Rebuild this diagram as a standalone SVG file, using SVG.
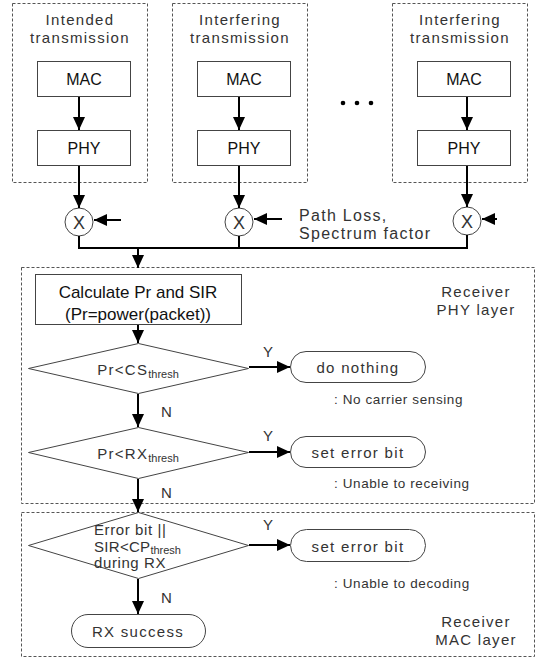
<svg xmlns="http://www.w3.org/2000/svg" width="542" height="658" viewBox="0 0 542 658">
<defs>
<marker id="ah" markerUnits="userSpaceOnUse" markerWidth="14" markerHeight="14" viewBox="0 0 14 14" refX="13" refY="7" orient="auto">
<path d="M0,1 L13,7 L0,13 Z" fill="#000"/>
</marker>
</defs>
<style>
.dash{fill:none;stroke:#555;stroke-width:1;stroke-dasharray:3,2}
.box{fill:#fff;stroke:#444;stroke-width:1}
.ln{fill:none;stroke:#000;stroke-width:2}
.arr{fill:none;stroke:#000;stroke-width:2;marker-end:url(#ah)}
.t{font-family:"Liberation Sans",Arial,sans-serif;font-size:15px;fill:#333;letter-spacing:1.3px}
.b{font-family:"Liberation Sans",Arial,sans-serif;font-size:16px;fill:#111}
.s{font-family:"Liberation Sans",Arial,sans-serif;font-size:13.5px;fill:#333;letter-spacing:0.6px}
.x{font-family:"Liberation Sans",Arial,sans-serif;font-size:18px;fill:#333;text-anchor:middle}
.sub{font-size:11px;letter-spacing:0}
.m{text-anchor:middle}
</style>
<rect width="542" height="658" fill="#fff"/>

<g id="tx1">
<rect class="dash" x="12.5" y="3.5" width="135" height="179"/>
<text class="t m" x="80" y="25">Intended</text>
<text class="t m" x="80" y="43">transmission</text>
</g>
<g id="tx2">
<rect class="dash" x="172.5" y="3.5" width="135" height="179"/>
<text class="t m" x="240" y="25">Interfering</text>
<text class="t m" x="240" y="43">transmission</text>
</g>
<g id="tx3">
<rect class="dash" x="392.5" y="3.5" width="135" height="179"/>
<text class="t m" x="460" y="25">Interfering</text>
<text class="t m" x="460" y="43">transmission</text>
</g>

<g id="mac1"><rect class="box" x="37.5" y="61.5" width="93" height="35"/><text class="b m" x="84" y="85">MAC</text></g>
<g id="phy1"><rect class="box" x="37.5" y="130.5" width="93" height="35"/><text class="b m" x="84" y="154">PHY</text></g>
<g id="mac2"><rect class="box" x="197.5" y="61.5" width="93" height="35"/><text class="b m" x="244" y="85">MAC</text></g>
<g id="phy2"><rect class="box" x="197.5" y="130.5" width="93" height="35"/><text class="b m" x="244" y="154">PHY</text></g>
<g id="mac3"><rect class="box" x="417.5" y="61.5" width="93" height="35"/><text class="b m" x="464" y="85">MAC</text></g>
<g id="phy3"><rect class="box" x="417.5" y="130.5" width="93" height="35"/><text class="b m" x="464" y="154">PHY</text></g>

<g id="dots" fill="#000">
<circle cx="343" cy="103" r="2.3"/><circle cx="357" cy="103" r="2.3"/><circle cx="371" cy="103" r="2.3"/>
</g>

<g id="mul1"><circle cx="79" cy="222" r="14" fill="#fff" stroke="#444"/><text class="x" x="79" y="228.5">X</text></g>
<g id="mul2"><circle cx="239" cy="222" r="14" fill="#fff" stroke="#444"/><text class="x" x="239" y="228.5">X</text></g>
<g id="mul3"><circle cx="467" cy="221" r="14" fill="#fff" stroke="#444"/><text class="x" x="467" y="227.5">X</text></g>

<g id="pathloss">
<text class="t" x="299" y="221" style="font-size:16px">Path Loss,</text>
<text class="t" x="299" y="239" style="font-size:16px">Spectrum factor</text>
</g>

<g id="rxphy">
<rect class="dash" x="21.5" y="267.5" width="513" height="236"/>
<text class="t m" x="476" y="297">Receiver</text>
<text class="t m" x="476" y="315">PHY layer</text>
</g>
<g id="rxmac">
<rect class="dash" x="21.5" y="512.5" width="513" height="144"/>
<text class="t m" x="476" y="627">Receiver</text>
<text class="t m" x="476" y="645">MAC layer</text>
</g>

<g id="calc">
<rect class="box" x="35.5" y="274.5" width="206" height="50"/>
<text class="b m" x="138" y="298" style="font-size:17px">Calculate Pr and SIR</text>
<text class="b m" x="138" y="320" style="font-size:17px">(Pr=power(packet))</text>
</g>

<g id="d1">
<polygon class="box" points="138.5,343.5 248.5,368.5 138.5,393.5 28.5,368.5"/>
<text class="t m" x="138" y="375">Pr&lt;CS<tspan class="sub" dy="3">thresh</tspan></text>
</g>
<g id="d2">
<polygon class="box" points="138.5,427.5 248.5,452.5 138.5,478.5 28.5,452.5"/>
<text class="t m" x="138" y="459">Pr&lt;RX<tspan class="sub" dy="3">thresh</tspan></text>
</g>
<g id="d3">
<polygon class="box" points="138.5,512.5 248.5,545.5 138.5,578.5 28.5,545.5"/>
<text class="t" x="94" y="535" style="letter-spacing:0.6px">Error bit ||</text>
<text class="t" x="94" y="552" style="letter-spacing:0.3px">SIR&lt;CP<tspan class="sub" dy="2">thresh</tspan></text>
<text class="t" x="94" y="568" style="letter-spacing:0.6px">during RX</text>
</g>

<g id="nothing">
<rect class="box" x="290.5" y="351.5" width="135" height="31" rx="15.5"/>
<text class="t m" x="358" y="373">do nothing</text>
<text class="s" x="334" y="404">: No carrier sensing</text>
</g>
<g id="err1">
<rect class="box" x="290.5" y="436.5" width="135" height="31" rx="15.5"/>
<text class="t m" x="358" y="458">set error bit</text>
<text class="s" x="334" y="488">: Unable to receiving</text>
</g>
<g id="err2">
<rect class="box" x="290.5" y="529.5" width="135" height="32" rx="16"/>
<text class="t m" x="358" y="552">set error bit</text>
<text class="s" x="334" y="588">: Unable to decoding</text>
</g>
<g id="success">
<rect class="box" x="71.5" y="614.5" width="134" height="33" rx="16.5"/>
<text class="t m" x="138" y="637">RX success</text>
</g>

<g id="connectors">
<line class="arr" x1="79" y1="97" x2="79" y2="130"/>
<line class="arr" x1="239" y1="97" x2="239" y2="130"/>
<line class="arr" x1="467" y1="97" x2="467" y2="130"/>
<line class="arr" x1="79" y1="166" x2="79" y2="208"/>
<line class="arr" x1="239" y1="166" x2="239" y2="208"/>
<line class="arr" x1="467" y1="166" x2="467" y2="207"/>
<line class="arr" x1="121" y1="220" x2="94" y2="220"/>
<line class="arr" x1="282" y1="219" x2="254" y2="219"/>
<line class="arr" x1="497" y1="219" x2="482" y2="219"/>
<polyline class="ln" points="79,236 79,248 467,248 467,235"/>
<line class="ln" x1="239" y1="236" x2="239" y2="248"/>
<line class="arr" x1="138" y1="248" x2="138" y2="268"/>
<line class="arr" x1="138" y1="325" x2="138" y2="343"/>
<line class="arr" x1="138" y1="394" x2="138" y2="427"/>
<line class="arr" x1="138" y1="479" x2="138" y2="512"/>
<line class="arr" x1="138" y1="579" x2="138" y2="614"/>
<line class="arr" x1="249" y1="367" x2="290" y2="367"/>
<line class="arr" x1="249" y1="452" x2="290" y2="452"/>
<line class="arr" x1="249" y1="545" x2="290" y2="545"/>
<text class="t" x="263" y="357">Y</text>
<text class="t" x="263" y="441">Y</text>
<text class="t" x="263" y="530">Y</text>
<text class="t" x="161" y="417">N</text>
<text class="t" x="161" y="498">N</text>
<text class="t" x="161" y="603">N</text>
</g>
</svg>
